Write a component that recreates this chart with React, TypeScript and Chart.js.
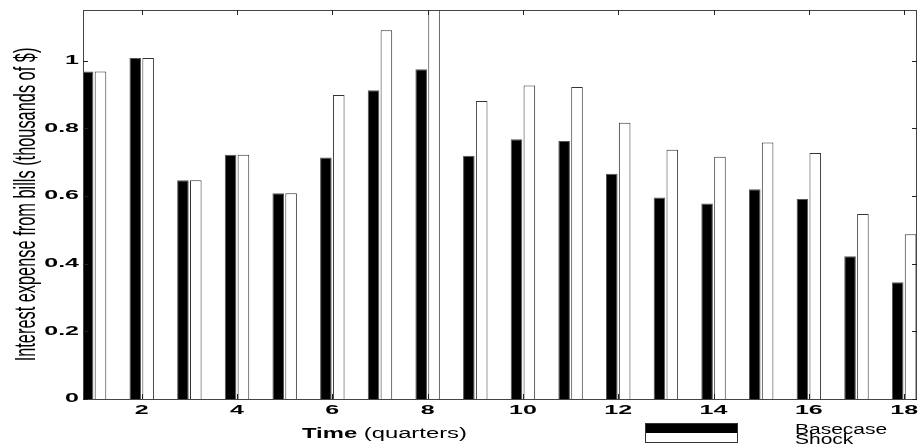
import React, { useEffect, useRef } from "react";
import { Chart, registerables } from "chart.js";

Chart.register(...registerables);

const quarters = [1, 2, 3, 4, 5, 6, 7, 8, 9, 10, 11, 12, 13, 14, 15, 16, 17, 18];
const basecase = [0.968, 1.008, 0.647, 0.722, 0.608, 0.714, 0.913, 0.975, 0.719, 0.768, 0.763, 0.666, 0.596, 0.578, 0.62, 0.591, 0.422, 0.345];
const shock = [0.968, 1.008, 0.647, 0.722, 0.608, 0.899, 1.09, 1.2, 0.881, 0.927, 0.922, 0.817, 0.737, 0.716, 0.758, 0.727, 0.547, 0.487];
const seriesLabels = ["Basecase", "Shock"];
const yTickValues = [0, 0.2, 0.4, 0.6, 0.8, 1];
const yTickLabels = ["0", "0.2", "0.4", "0.6", "0.8", "1"];
const xTickValues = [2, 4, 6, 8, 10, 12, 14, 16, 18];
const xTickLabels = ["2", "4", "6", "8", "10", "12", "14", "16", "18"];
const yTitle = "Interest expense from bills (thousands of $)";
const xTitleBold = "Time";
const xTitleRest = " (quarters)";

const FAMILY = "'Liberation Sans', Arial, Helvetica, sans-serif";

function stretchedText(
  ctx: CanvasRenderingContext2D,
  text: string,
  x: number,
  y: number,
  sx: number,
  font: string,
  align: CanvasTextAlign,
  baseline: CanvasTextBaseline
) {
  ctx.save();
  ctx.font = font;
  ctx.textAlign = align;
  ctx.textBaseline = baseline;
  ctx.translate(x, y);
  ctx.scale(sx, 1);
  ctx.fillText(text, 0, 0);
  ctx.restore();
}

const decorPlugin = {
  id: "decor",
  afterDraw(chart: any) {
    const ctx: CanvasRenderingContext2D = chart.ctx;
    const { left, right, top, bottom } = chart.chartArea;
    const xs = chart.scales.x;
    const ys = chart.scales.y;
    ctx.save();
    // box
    ctx.strokeStyle = "#444";
    ctx.lineWidth = 1;
    ctx.strokeRect(left + 0.5, top + 0.5, right - left - 1, bottom - top);
    // inward ticks
    ctx.strokeStyle = "#222";
    ctx.beginPath();
    const tl = 5;
    yTickValues.forEach((v) => {
      const py = Math.round(ys.getPixelForValue(v)) + 0.5;
      ctx.moveTo(left, py);
      ctx.lineTo(left + tl, py);
      ctx.moveTo(right, py);
      ctx.lineTo(right - tl, py);
    });
    xTickValues.forEach((v) => {
      const px = Math.round(xs.getPixelForValue(v)) + 0.5;
      ctx.moveTo(px, top);
      ctx.lineTo(px, top + tl);
      ctx.moveTo(px, bottom);
      ctx.lineTo(px, bottom - tl);
    });
    ctx.stroke();

    ctx.fillStyle = "#000";
    const tickFont = `bold 12.5px ${FAMILY}`;
    // y tick labels
    yTickValues.forEach((v, i) => {
      stretchedText(ctx, yTickLabels[i], left - 4, ys.getPixelForValue(v), 2.0, tickFont, "right", "middle");
    });
    // x tick labels
    xTickValues.forEach((v, i) => {
      stretchedText(ctx, xTickLabels[i], xs.getPixelForValue(v), bottom + 12, 2.0, tickFont, "center", "middle");
    });

    // x title
    const tx = 302;
    const tb = 438;
    const sxT = 1.7;
    const boldF = `bold 14px ${FAMILY}`;
    const normF = `14px ${FAMILY}`;
    stretchedText(ctx, xTitleBold, tx, tb, sxT, boldF, "left", "alphabetic");
    ctx.font = boldF;
    const wB = ctx.measureText(xTitleBold).width * sxT;
    stretchedText(ctx, xTitleRest, tx + wB, tb, sxT, normF, "left", "alphabetic");

    // y title (rotated)
    ctx.font = `16px ${FAMILY}`;
    const w16 = ctx.measureText(yTitle).width;
    const fs = (16 * 314) / w16;
    ctx.save();
    ctx.translate(27, (top + bottom) / 2);
    ctx.scale(1.75, 1);
    ctx.rotate(-Math.PI / 2);
    ctx.font = `${fs}px ${FAMILY}`;
    ctx.textAlign = "center";
    ctx.textBaseline = "middle";
    ctx.fillText(yTitle, 0, 0);
    ctx.restore();

    // legend
    const ds = chart.data.datasets;
    const lx = 645;
    const lw = 93;
    ctx.fillStyle = ds[0].backgroundColor;
    ctx.fillRect(lx, 423, lw, 10);
    ctx.fillStyle = ds[1].backgroundColor;
    ctx.fillRect(lx, 433, lw, 10);
    ctx.strokeStyle = "#333";
    ctx.strokeRect(lx + 0.5, 423.5, lw - 1, 19);
    ctx.fillStyle = "#000";
    const legF = `14px ${FAMILY}`;
    stretchedText(ctx, ds[0].label, 795, 433.5, 1.5, legF, "left", "alphabetic");
    stretchedText(ctx, ds[1].label, 795, 443.5, 1.5, legF, "left", "alphabetic");
    ctx.restore();
  },
};

export default function App() {
  const ref = useRef<HTMLCanvasElement>(null);
  useEffect(() => {
    if (!ref.current) return;
    const chart = new Chart(ref.current, {
      type: "bar",
      data: {
        datasets: [
          {
            label: seriesLabels[0],
            data: quarters.map((q, i) => ({ x: q, y: basecase[i] })),
            backgroundColor: "#000000",
            borderColor: "#555555",
            borderWidth: 1,
            categoryPercentage: 0.54,
            barPercentage: 0.9,
          },
          {
            label: seriesLabels[1],
            data: quarters.map((q, i) => ({ x: q, y: shock[i] })),
            backgroundColor: "#ffffff",
            borderColor: "#333333",
            borderWidth: 1,
            categoryPercentage: 0.54,
            barPercentage: 0.9,
          },
        ] as any,
      },
      options: {
        animation: false,
        responsive: false,
        devicePixelRatio: 1,
        layout: { padding: { top: 10, right: 2, left: 0, bottom: 0 } },
        plugins: { legend: { display: false }, tooltip: { enabled: false } },
        scales: {
          x: {
            type: "linear",
            min: 0.768,
            max: 18.27,
            offset: false,
            grid: { display: false },
            border: { display: false },
            ticks: { display: false },
            afterFit: (s: any) => {
              s.height = 49;
            },
          },
          y: {
            min: 0,
            max: 1.15,
            grid: { display: false },
            border: { display: false },
            ticks: { display: false },
            afterFit: (s: any) => {
              s.width = 83;
            },
          },
        },
      } as any,
      plugins: [decorPlugin],
    });
    return () => chart.destroy();
  }, []);
  return (
    <div style={{ position: "absolute", left: 0, top: 0, width: 919, height: 448, background: "#fff" }}>
      <canvas ref={ref} width={919} height={448} />
    </div>
  );
}
